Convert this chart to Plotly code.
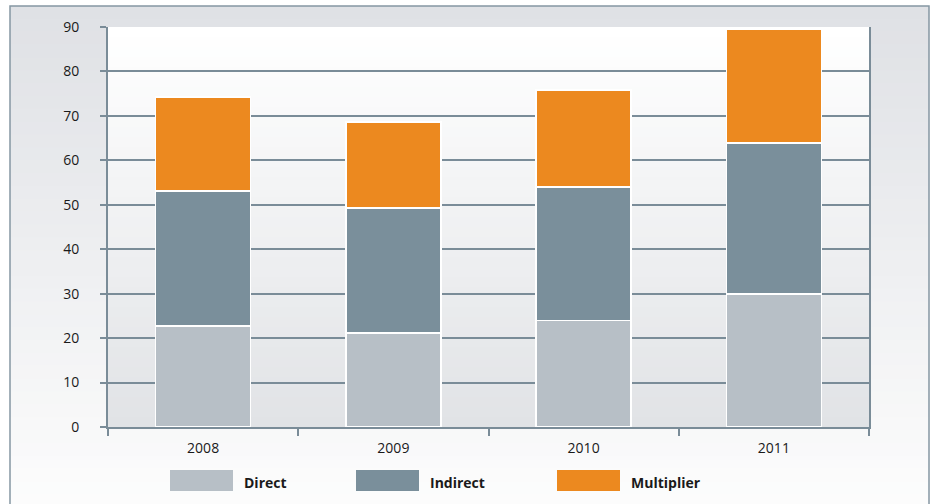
import plotly.graph_objects as go

# Stacked contributions per year
years = ["2008", "2009", "2010", "2011"]
direct = [22.7, 21.2, 24.0, 29.9]
indirect = [30.4, 28.1, 30.0, 34.0]
multiplier = [21.1, 19.3, 21.8, 25.7]

series_names = ["Direct", "Indirect", "Multiplier"]
series_colors = ["#b7bfc6", "#7a8f9b", "#ec891f"]

W, H = 935, 504
L, R, T, B = 108, 66, 27, 77
PW, PH = W - L - R, H - T - B
AXIS = "#7a8c98"
FONT = "Open Sans, sans-serif"


def px_x(x):
    return (x - L) / PW


def px_y(y):
    return (H - B - y) / PH


def mix(c1, c2, t):
    a = [int(c1[i:i + 2], 16) for i in (1, 3, 5)]
    b = [int(c2[i:i + 2], 16) for i in (1, 3, 5)]
    return "#%02x%02x%02x" % tuple(round(a[k] + (b[k] - a[k]) * t) for k in range(3))


fig = go.Figure()
for name, vals, col in zip(series_names, [direct, indirect, multiplier], series_colors):
    fig.add_trace(go.Bar(
        x=years, y=vals, name=name, width=0.5,
        marker=dict(color=col, line=dict(color="#ffffff", width=1.5)),
        showlegend=False,
    ))

shapes = []
# outer panel with vertical gradient
fx0, fx1, fy0, fy1 = 10, 929, 6, 520
n = 40
for i in range(n):
    ya = fy0 + (fy1 - fy0) * i / n
    yb = fy0 + (fy1 - fy0) * (i + 1) / n + 1
    shapes.append(dict(type="rect", xref="paper", yref="paper", layer="below",
                       x0=px_x(fx0), x1=px_x(fx1), y0=px_y(yb), y1=px_y(ya),
                       fillcolor=mix("#dfe1e5", "#fdfdfd", i / (n - 1)), line=dict(width=0)))
shapes.append(dict(type="rect", xref="paper", yref="paper", layer="below",
                   x0=px_x(fx0), x1=px_x(fx1), y0=px_y(fy1), y1=px_y(fy0),
                   fillcolor="rgba(0,0,0,0)", line=dict(color="#8597a3", width=1.5)))
# plot area gradient
for i in range(n):
    ya = T + PH * i / n
    yb = T + PH * (i + 1) / n + 1
    shapes.append(dict(type="rect", xref="paper", yref="paper", layer="below",
                       x0=0, x1=1, y0=px_y(min(yb, T + PH)), y1=px_y(ya),
                       fillcolor=mix("#ffffff", "#e1e3e6", i / (n - 1)), line=dict(width=0)))

# legend swatches and labels
annotations = []
legend_x = [170, 356, 557]
for name, col, x0 in zip(series_names, series_colors, legend_x):
    shapes.append(dict(type="rect", xref="paper", yref="paper",
                       x0=px_x(x0), x1=px_x(x0 + 63), y0=px_y(491), y1=px_y(470),
                       fillcolor=col, line=dict(width=0)))
    annotations.append(dict(text="<b>" + name + "</b>", xref="paper", yref="paper",
                            x=px_x(x0 + 72), y=px_y(482), xanchor="left", yanchor="middle",
                            showarrow=False, font=dict(size=14, color="#1a1a1a", family=FONT)))

fig.update_layout(
    width=W, height=H,
    margin=dict(l=L, r=R, t=T, b=B),
    paper_bgcolor="#ffffff",
    plot_bgcolor="rgba(0,0,0,0)",
    barmode="stack",
    shapes=shapes,
    annotations=annotations,
    font=dict(family=FONT, size=14, color="#1a1a1a"),
    xaxis=dict(
        type="category", showgrid=False, showline=True, linecolor=AXIS, linewidth=2,
        ticks="outside", tickson="boundaries", ticklen=7, tickwidth=2, tickcolor=AXIS,
        ticklabelstandoff=7,
        tickfont=dict(size=14, color="#1a1a1a"), zeroline=False,
    ),
    yaxis=dict(
        range=[0, 90], dtick=10, showgrid=True, gridcolor=AXIS, gridwidth=2,
        showline=True, linecolor=AXIS, linewidth=2, mirror=True,
        ticks="outside", ticklen=6, tickwidth=2, tickcolor=AXIS,
        ticklabelstandoff=18, zeroline=False,
        tickfont=dict(size=14, color="#1a1a1a"),
    ),
)

fig.write_html("out.html")
